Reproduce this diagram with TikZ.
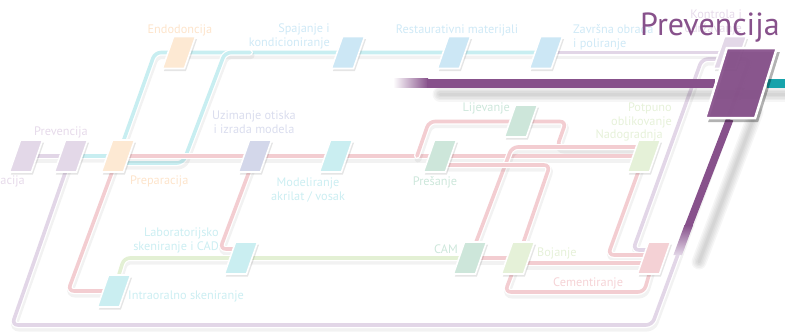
\documentclass[tikz,border=0pt]{standalone}
\usepackage{fontspec}
\setmainfont{PT Sans}
\usetikzlibrary{shadows}

\definecolor{lavline}{HTML}{E2D6E7}
\definecolor{lavstat}{HTML}{E3D8E8}
\definecolor{cyanline}{HTML}{C8EEF1}
\definecolor{cyanstat}{HTML}{CAEEF1}
\definecolor{bluestat}{HTML}{CCE7F5}
\definecolor{peachstat}{HTML}{FDE9D3}
\definecolor{redline}{HTML}{F3CDD1}
\definecolor{uzimstat}{HTML}{D3D7EA}
\definecolor{greenstat}{HTML}{CDE6DA}
\definecolor{limestat}{HTML}{E5F1D8}
\definecolor{limeline}{HTML}{E3F0D4}
\definecolor{pinkstat}{HTML}{F4D1D5}
\definecolor{prevpurple}{HTML}{87518B}
\definecolor{prevteal}{HTML}{17A3AB}
\definecolor{lavtext}{HTML}{E6DAEA}
\definecolor{peachtext}{HTML}{FDE4CB}
\definecolor{bluetext}{HTML}{CFE9F6}
\definecolor{uzimtext}{HTML}{DADDEE}
\definecolor{cyantext}{HTML}{CCEEF2}
\definecolor{greentext}{HTML}{CDE7DB}
\definecolor{limetext}{HTML}{E6F1D9}
\definecolor{pinktext}{HTML}{F5D3D6}

\pgfdeclarelayer{background}
\pgfsetlayers{background,main}

\begin{document}
\begin{tikzpicture}[x=1pt,y=-1pt,
		metro/.style={line width=3.6pt, rounded corners=6pt, line cap=round,
			preaction={draw=black, draw opacity=0.05, line width=7pt, line cap=round, transform canvas={shift={(1,3)}}},
			preaction={draw=white, line width=6pt, line cap=round}},
		station/.style={draw=white, line width=1.6pt, minimum width=22pt, minimum height=32pt, inner sep=0pt, xslant=0.35,
			drop shadow={shadow xshift=1.5pt, shadow yshift=-2.5pt, opacity=0.1, fill=black}},
		bigstation/.style={fill=prevpurple, fill opacity=0.94, draw=white, draw opacity=1, line width=2.5pt, minimum width=50pt, minimum height=70pt, inner sep=0pt, xslant=0.31,
			drop shadow={shadow xshift=3pt, shadow yshift=-4pt, opacity=0.3, fill=black}},
		lbl/.style={inner sep=0pt, font=\fontsize{12.3}{14}\selectfont}]
			\useasboundingbox (0,0) rectangle (785,333);
			
			\node[station, fill=lavstat] (st1) at (26,156) {};
			\node[station, fill=lavstat] (st2) at (71,156) {};
			\node[station, fill=peachstat] (prep) at (118,156) {};
			\node[station, fill=peachstat] (endo) at (179,52.5) {};
			\node[station, fill=bluestat] (spaj) at (348,52.5) {};
			\node[station, fill=bluestat] (rest) at (454,52.5) {};
			\node[station, fill=bluestat] (zavr) at (546,52.5) {};
			\node[station, fill=lavstat] (kontr) at (730,52.5) {};
			\node[station, fill=uzimstat] (uzim) at (255,156) {};
			\node[station, fill=cyanstat] (model) at (336,156) {};
			\node[station, fill=greenstat] (presa) at (440,156) {};
			\node[station, fill=greenstat] (lijev) at (521,121) {};
			\node[station, fill=limestat] (nadog) at (644,156) {};
			\node[station, fill=cyanstat] (lab) at (241,258) {};
			\node[station, fill=cyanstat] (intra) at (114,291) {};
			\node[station, fill=greenstat] (cam) at (470,258) {};
			\node[station, fill=limestat] (boj) at (518,258) {};
			\node[station, fill=pinkstat] (cem) at (654,258) {};
			\node[bigstation] (bigprev) at (741,83) {};
			
			\coordinate (lv1) at (12,325);
			\coordinate (lv2) at (652,325);
			\coordinate (lv3) at (750,59);
			\coordinate (lv4) at (702,59);
			\coordinate (lv5) at (633,250);
			\coordinate (cy1) at (155,52.5);
			\coordinate (cy2) at (183,163);
			\coordinate (cy3) at (225,52.5);
			\coordinate (cy4) at (250,52.5);
			\coordinate (rd1) at (417,156);
			\coordinate (rd2) at (429,121.5);
			\coordinate (rd3) at (566,121.5);
			\coordinate (rd4) at (557,147);
			\coordinate (rd5) at (512,147);
			\coordinate (rd6) at (550,165);
			\coordinate (rd7) at (600,263);
			\coordinate (rd8) at (505,292);
			\coordinate (rd9) at (644,292);
			\coordinate (rd10) at (608,255);
			\coordinate (rd11) at (68,291);
			\coordinate (rd12) at (220,249);
			\coordinate (gr1) at (124,258);
			\coordinate (barfade) at (427,83);
			\coordinate (tealend) at (790,83);
			\coordinate (pd1) at (687.7,228);
			
			\begin{pgfonlayer}{background}
				\draw[metro, draw=lavline] (st1.center) -- (st2.center);
				\draw[metro, draw=lavline] (st2.center) -- (lv1) -- (lv2) -- (bigprev.center) -- (lv3) -- (lv4) -- (lv5) -- (lv5 -| cem.center);
				\draw[metro, draw=lavline] (zavr.center) -- (kontr.center);
				
				\draw[metro, draw=cyanline] (st2.center) -- (prep.center) -- (cy1) -- (zavr.center);
				\draw[metro, draw=cyanline] (prep.center |- cy2) -- (cy2) -- (cy3) -- (cy4);
				
				\draw[metro, draw=redline] (prep.center) -- (rd11) -- (intra.center);
				\draw[metro, draw=redline] (uzim.center) -- (rd12) -- (rd12 -| lab.center);
				\draw[metro, draw=redline] (prep.center) -- (uzim.center) -- (model.center) -- (presa.center) -- (nadog.center);
				\draw[metro, draw=redline] (rd1) -- (rd2) -- (rd3) -- (rd4) -- (rd4 -| nadog.center);
				\draw[metro, draw=redline] (cam.center) -- (rd5) -- (rd5 -| nadog.center);
				\draw[metro, draw=redline] (presa.center |- rd6) -- (rd6) -- (boj.center);
				\draw[metro, draw=redline] (boj.center) -- (rd8) -- (rd9) -- (cem.center);
				\draw[metro, draw=redline] (nadog.center) -- (rd10) -- (rd10 -| cem.center);
				\draw[metro, draw=redline] (boj.center |- rd7) -- (rd7 -| cem.center);
				\draw[metro, draw=redline] (cam.center) -- (boj.center);
				
				\draw[metro, draw=limeline] (intra.center) -- (gr1) -- (lab.center) -- (cam.center);
				
				\foreach \w in {3,6,9,12,15}
					\draw[black, opacity=0.035, line width=\w pt, line cap=round] (440,94) -- (800,94);
				\foreach \w in {3,6,9,12,15}
					\draw[black, opacity=0.035, line width=\w pt, line cap=round] (756,112) -- (699,262);
				\shade[left color=white, right color=prevpurple] (393,78.5) rectangle (428,87.5);
				\draw[prevpurple, line width=9pt] (barfade) -- (bigprev.west);
				\draw[prevteal, line width=9pt] (bigprev.east) -- (tealend);
				\draw[prevpurple, line width=7.5pt] (bigprev.south) -- (pd1);
				\shade[top color=prevpurple, bottom color=lavline] (684.5,225) -- (693.1,225) -- (682,255) -- (673.4,255) -- cycle;
			\end{pgfonlayer}
			
			\node[lbl, text=lavtext, anchor=base] (lprev) at (61,135) {Prevencija};
			\node[lbl, text=lavtext, anchor=base east] (lacija) at (25,184.5) {acija};
			\node[lbl, text=peachtext, anchor=base west] (lprep) at (130,184) {Preparacija};
			\node[lbl, text=peachtext, anchor=base] (lendo) at (180,33) {Endodoncija};
			\node[lbl, text=bluetext, anchor=north east, align=right] (lspaj) at (330,24) {Spajanje i\\kondicioniranje};
			\node[lbl, text=bluetext, anchor=base] (lrest) at (457,33) {Restaurativni materijali};
			\node[lbl, text=bluetext, anchor=north west, align=left] (lzavr) at (573,24) {Završna obrada\\i poliranje};
			\node[lbl, text=lavtext, anchor=north east, align=right] (lkontr) at (742,10) {Kontrola i\\održavanje};
			\node[lbl, text=uzimtext, anchor=north, align=center] (luzim) at (254,111) {Uzimanje otiska\\i izrada modela};
			\node[lbl, text=cyantext, anchor=north, align=center] (lmodel) at (308,178) {Modeliranje\\akrilat / vosak};
			\node[lbl, text=greentext, anchor=base] (lpresa) at (435,185) {Prešanje};
			\node[lbl, text=greentext, anchor=base east] (llijev) at (510,111.5) {Lijevanje};
			\node[lbl, text=limetext, anchor=north east, align=right] (lpotp) at (672,103) {Potpuno\\oblikovanje};
			\node[lbl, text=limetext, anchor=base east] (lnadog) at (663,138.5) {Nadogradnja};
			\node[lbl, text=greentext, anchor=base east] (lcam) at (458,253) {CAM};
			\node[lbl, text=limetext, anchor=base west] (lboj) at (537,256) {Bojanje};
			\node[lbl, text=pinktext, anchor=base west] (lcem) at (553,286) {Cementiranje};
			\node[lbl, text=cyantext, anchor=north east, align=right] (llab) at (219,228) {Laboratorijsko\\skeniranje i CAD};
			\node[lbl, text=cyantext, anchor=base west] (lintra) at (128,299) {Intraoralno skeniranje};
			
			\node[anchor=base west, inner sep=0pt, text=prevpurple, font=\fontsize{32}{36}\selectfont] (title) at (640,35) {Prevencija};
		\end{tikzpicture}
\end{document}
